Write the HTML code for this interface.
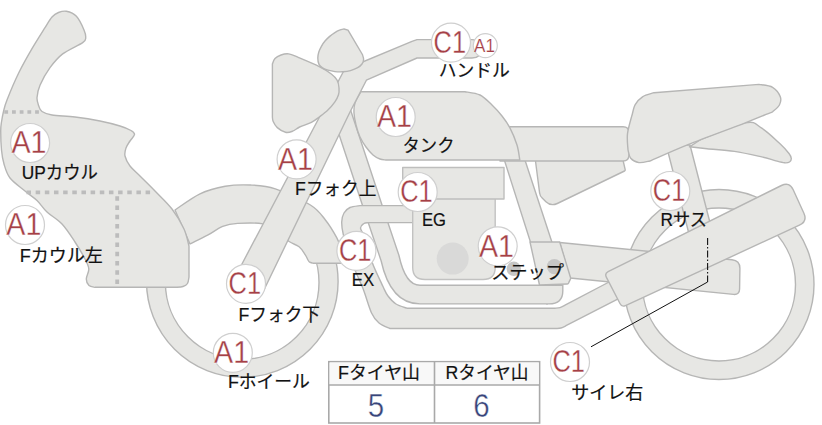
<!DOCTYPE html>
<html lang="ja"><head><meta charset="utf-8"><title>bike</title>
<style>
html,body{margin:0;padding:0;background:#fff;}
body{width:822px;height:425px;overflow:hidden;}
svg{display:block;}
text{font-family:"Liberation Sans","Noto Sans CJK JP",sans-serif;}
</style></head><body>
<svg width="822" height="425" viewBox="0 0 822 425">
<rect width="822" height="425" fill="#fff"/>
<path d="M624.0,284.5 a95.0,95.0 0 1,0 190.0,0 a95.0,95.0 0 1,0 -190.0,0 Z M642.5,284.5 a76.5,76.5 0 1,1 153.0,0 a76.5,76.5 0 1,1 -153.0,0 Z" fill="#e7e7e4" stroke="#b6b6b5" stroke-width="1.4" stroke-linejoin="round" fill-rule="evenodd"/>
<clipPath id="ftc"><rect x="0" y="250" width="822" height="200"/></clipPath><g clip-path="url(#ftc)"><path d="M146.5,281.5 a95.8,95.8 0 1,0 191.6,0 a95.8,95.8 0 1,0 -191.6,0 Z M165.4,282.5 a76.8,76.8 0 1,1 153.6,0 a76.8,76.8 0 1,1 -153.6,0 Z" fill="#e7e7e4" stroke="#b6b6b5" stroke-width="1.4" stroke-linejoin="round" fill-rule="evenodd"/></g>
<path d="M338,101.6 L374.5,212 L390,258 Q398,294.6 420,294.6 L548,294.6" fill="none" stroke="#b6b6b5" stroke-width="20.0" stroke-linecap="butt" stroke-linejoin="round"/><path d="M338,101.6 L374.5,212 L390,258 Q398,294.6 420,294.6 L548,294.6" fill="none" stroke="#e7e7e4" stroke-width="17.2" stroke-linecap="butt" stroke-linejoin="round"/>
<path d="M546,285.3 L562.8,285.3 L562.8,291 Q562.8,303.9 549,303.9 L546,303.9" fill="#e7e7e4" stroke="#b6b6b5" stroke-width="1.4"/>
<path d="M500.5,148 L521,148 L554.5,250 L533,250 Z" fill="#e7e7e4" stroke="#b6b6b5" stroke-width="1.4" stroke-linejoin="round" />
<path d="M412.7,205.6 L360.0,205.6 C358.3,205.9 352.7,206.3 350.0,207.5 C347.3,208.7 345.4,210.6 344.0,213.0 C342.6,215.4 341.8,218.5 341.7,222.0 C341.6,225.5 341.8,228.0 343.2,234.0 C344.6,240.0 346.8,249.1 350.0,258.0 C353.2,266.9 359.0,278.5 362.6,287.6 C366.2,296.7 368.7,306.8 371.4,312.7 C374.1,318.6 375.9,320.4 379.0,323.0 C382.1,325.6 388.2,327.6 390.0,328.5 L556.0,328.5 C556.8,328.4 559.3,328.5 561.0,328.0 C562.7,327.5 565.2,326.1 566.0,325.7 L624.0,295.8 L610.0,281.5 L565.0,305.2 C564.2,305.6 561.7,307.1 560.0,307.6 C558.3,308.1 555.8,308.1 555.0,308.2 L407.0,308.2 C405.2,307.5 399.2,306.0 396.0,304.0 C392.8,302.0 390.2,298.9 388.0,296.0 C385.8,293.1 385.7,292.2 383.0,286.5 C380.3,280.8 375.0,270.1 372.0,262.0 C369.0,253.9 366.7,243.4 364.8,237.7 C362.9,232.0 360.6,230.4 360.5,228.0 C360.4,225.6 362.8,224.4 364.0,223.5 C365.2,222.6 367.3,222.8 368.0,222.6 L412.7,222.6 Z" fill="#e7e7e4" stroke="#b6b6b5" stroke-width="1.4" stroke-linejoin="round" />
<path d="M412.7,190 L495.2,190 L495.2,267.5 Q495.2,279.5 483,279.5 L425,279.5 Q412.7,279.5 412.7,267.5 Z" fill="#e7e7e4" stroke="#c2c2c1" stroke-width="1.4" stroke-linejoin="round" />
<path d="M402.7,167.5 H504 V199 H402.7 Z" fill="#e7e7e4" stroke="#bebebd" stroke-width="1.4" stroke-linejoin="round" />
<circle cx="452.7" cy="258.6" r="16" fill="#d9d9d8"/>
<path d="M559.7,242.5 L732.0,259.7 Q740.0,260.5 739.9,268.5 L739.6,289.0 Q739.5,295.0 733.5,294.4 L570.0,278.0 Z" fill="#e7e7e4" stroke="#b6b6b5" stroke-width="1.4" stroke-linejoin="round" />
<path d="M666.2,145 L690,145 L716,246 L692.1,246 Z" fill="#e7e7e4" stroke="#b6b6b5" stroke-width="1.4" stroke-linejoin="round" />
<path d="M530.0,242.0 L559.7,242.0 L570.5,277.5 Q570.8,278.5 570.3,279.4 L568.5,283.1 Q568.0,284.0 567.0,284.0 L539.5,285.0 Z" fill="#e7e7e4" stroke="#b6b6b5" stroke-width="1.4" stroke-linejoin="round" />
<circle cx="513.8" cy="268.8" r="7.2" fill="#c6c6c5"/>
<circle cx="554.4" cy="266.6" r="7.6" fill="#c6c6c5"/>
<path d="M535.1,158.0 L622.5,158.0 L625.2,169.6 Q625.4,170.6 624.5,171.0 L557.3,203.5 Q551.0,206.5 545.9,201.7 L542.2,198.1 Q540.0,196.0 539.6,193.0 Z" fill="#e7e7e4" stroke="#b6b6b5" stroke-width="1.4" stroke-linejoin="round" />
<path d="M500.0,126.7 L623.0,126.7 Q629.0,126.7 629.0,132.7 L629.0,155.0 Q629.0,161.0 623.0,161.0 L500.0,161.0 Z" fill="#e7e7e4" stroke="#b6b6b5" stroke-width="1.4" stroke-linejoin="round" />
<path d="M700.0,140.0 C707.5,137.1 735.0,124.8 745.3,122.8 C755.6,120.8 755.8,124.6 761.7,128.2 C767.6,131.8 776.2,140.4 780.8,144.6 C785.3,148.8 787.2,151.2 789.0,153.5 C790.8,155.8 791.2,157.1 791.3,158.5 C791.4,159.9 790.6,161.3 789.5,162.0 C788.4,162.7 786.9,163.0 784.5,162.8 C782.1,162.6 778.8,161.6 775.0,160.6 C771.2,159.6 768.5,158.4 761.7,156.9 C754.9,155.4 743.5,152.8 734.4,151.4 C725.3,150.0 714.5,149.5 707.0,148.7 C699.5,147.9 692.3,147.1 689.4,146.8 Z" fill="#e7e7e4" stroke="#b6b6b5" stroke-width="1.4" stroke-linejoin="round" />
<path d="M632.1,115.0 C632.6,113.3 633.5,107.6 635.2,104.6 C636.9,101.6 639.4,98.8 642.5,96.8 C645.6,94.8 652.1,93.4 654.0,92.7 L759.0,84.4 C761.3,84.9 769.1,85.2 772.6,87.3 C776.1,89.4 779.2,93.8 780.3,96.8 C781.4,99.8 780.7,102.5 779.4,105.0 C778.1,107.5 773.7,110.7 772.6,111.8 C768.0,113.6 759.4,117.3 745.3,122.8 C731.2,128.3 703.9,138.2 688.0,144.6 C672.1,151.0 656.2,158.3 649.8,161.0 C648.0,161.3 642.1,163.1 638.9,162.6 C635.7,162.1 632.5,160.3 630.7,158.2 C628.9,156.1 628.5,151.4 628.0,150.0 C627.9,147.3 626.8,139.6 627.5,133.7 C628.2,127.8 631.3,117.8 632.1,114.6 Z" fill="#e7e7e4" stroke="#b6b6b5" stroke-width="1.4" stroke-linejoin="round" />
<path d="M361.0,91.7 L465.0,91.7 C467.5,92.2 475.5,92.8 480.0,95.0 C484.5,97.2 488.3,101.5 492.0,105.0 C495.7,108.5 499.0,112.2 502.0,116.0 C505.0,119.8 507.3,122.8 509.8,127.6 C512.3,132.4 515.3,139.6 517.0,145.0 C518.7,150.4 519.3,157.5 519.8,160.0 L386.0,160.0 C385.0,159.8 382.2,159.8 380.0,159.0 C377.8,158.2 375.3,157.0 373.0,155.0 C370.7,153.0 368.2,150.0 366.0,147.0 C363.8,144.0 361.7,140.7 360.0,137.0 C358.3,133.3 357.0,129.0 356.0,125.0 C355.0,121.0 354.2,116.7 354.0,113.0 C353.8,109.3 353.8,106.5 355.0,103.0 C356.2,99.5 360.0,93.6 361.0,91.7 Z" fill="#e7e7e4" stroke="#b6b6b5" stroke-width="1.4" stroke-linejoin="round" />
<path d="M175.0,210.0 C179.2,207.3 191.6,197.8 200.0,193.8 C208.4,189.9 216.8,187.8 225.2,186.3 C233.6,184.8 242.0,184.6 250.3,185.0 C258.7,185.4 265.3,185.5 275.3,188.8 C285.3,192.1 302.0,199.8 310.4,205.0 C318.8,210.2 321.0,214.6 325.4,220.0 C329.8,225.4 334.0,232.7 336.7,237.7 C339.4,242.7 340.6,245.8 341.5,250.0 C342.4,254.2 341.9,261.0 342.0,263.2 L313.0,263.2 C312.4,263.0 310.5,262.7 309.7,262.2 C308.9,261.7 308.7,261.2 308.0,260.0 C307.3,258.8 306.8,257.0 305.3,254.8 C303.8,252.6 301.8,249.0 299.1,246.8 C296.4,244.6 293.0,244.1 289.1,241.5 C285.2,238.9 280.4,233.9 276.0,231.0 C271.6,228.1 269.2,225.2 262.8,223.9 C256.4,222.6 244.4,223.0 237.7,223.4 C231.0,223.8 227.7,224.4 222.7,226.4 C217.7,228.4 213.0,232.3 207.6,235.2 C202.2,238.1 192.9,242.5 190.0,244.0 Z" fill="#e7e7e4" stroke="#b6b6b5" stroke-width="1.4" stroke-linejoin="round" />
<path d="M344.5,69.5 L412,41.3 L417,39.6 L472,39.6 Q481.5,39.6 481.5,48.8 Q481.5,58 472,58 L417,58 L366.4,80.2 L350,112 L262,294 L233,281 Z" fill="#e7e7e4" stroke="#b6b6b5" stroke-width="1.4" stroke-linejoin="round" />
<path d="M272.4,117.0 L272.4,64.0 C272.8,63.1 273.6,60.0 275.0,58.5 C276.4,57.0 278.7,55.8 281.0,55.0 C283.3,54.2 285.8,53.5 288.7,53.9 C291.6,54.3 293.7,55.5 298.7,57.6 C303.7,59.7 313.4,63.7 318.8,66.4 C324.2,69.1 328.3,71.7 331.3,74.0 C334.3,76.3 335.7,77.7 337.0,80.0 C338.3,82.3 338.8,85.5 339.0,88.0 C339.2,90.5 339.2,92.4 338.5,94.7 C337.8,97.0 336.7,99.2 334.9,101.8 C333.1,104.3 330.6,107.4 327.9,110.0 C325.2,112.6 321.2,115.5 318.5,117.6 C315.8,119.7 314.5,120.8 311.4,122.4 C308.2,124.0 302.7,125.5 299.6,127.0 C296.5,128.5 295.0,130.3 292.6,131.2 C290.2,132.1 288.1,132.9 285.5,132.3 C282.9,131.7 279.4,129.4 277.3,127.6 C275.2,125.8 274.0,123.3 273.2,121.5 C272.4,119.7 272.5,117.8 272.4,117.0 Z" fill="#e7e7e4" stroke="#b6b6b5" stroke-width="1.4" stroke-linejoin="round" />
<path d="M344.0,29.0 L348.0,30.2 L362.4,54.5 C362.6,55.3 363.7,57.9 363.6,59.5 C363.5,61.1 363.0,62.6 362.0,64.0 C361.0,65.4 359.6,66.6 357.7,67.7 C355.8,68.8 353.0,69.9 350.5,70.6 C348.0,71.3 345.4,71.6 342.8,71.8 C340.2,72.0 337.5,71.9 335.0,71.6 C332.5,71.3 330.1,70.8 328.0,70.2 C325.9,69.6 324.0,68.8 322.5,67.8 C321.0,66.8 319.8,66.0 319.0,64.4 C318.2,62.8 317.8,60.1 317.8,58.0 C317.8,55.9 318.2,54.0 318.8,52.0 C319.4,50.0 320.4,48.1 321.4,46.3 C322.4,44.5 323.6,42.6 325.0,41.0 C326.4,39.4 328.1,37.8 329.7,36.4 C331.3,35.0 332.9,33.8 334.5,32.8 C336.1,31.8 337.9,30.8 339.5,30.2 C341.1,29.6 343.2,29.2 344.0,29.0 Z" fill="#e7e7e4" stroke="#b6b6b5" stroke-width="1.4" stroke-linejoin="round" />
<path d="M189.0,246.0 L189.0,277.0 C188.8,278.1 188.5,281.9 187.5,283.5 C186.5,285.1 184.9,285.9 183.0,286.5 C181.1,287.1 177.2,287.2 176.0,287.3 L95.0,287.3 C94.0,287.0 90.5,286.9 89.0,285.5 C87.5,284.1 86.3,281.8 86.3,279.0 C86.3,276.2 89.0,272.3 88.8,269.0 C88.6,265.7 87.3,263.5 85.0,259.0 C82.7,254.5 78.8,247.8 75.0,242.0 C71.2,236.2 66.7,229.0 62.0,224.0 C57.3,219.0 51.2,215.9 47.0,212.0 C42.8,208.1 40.7,204.0 37.0,200.5 C33.3,197.0 29.5,194.8 25.0,191.0 C20.5,187.2 13.5,182.5 10.0,178.0 C6.5,173.5 5.4,168.7 4.0,164.0 C2.6,159.3 2.0,155.5 1.5,150.0 C1.0,144.5 0.7,135.7 0.7,131.0 C0.7,126.3 1.0,125.3 1.5,122.0 C2.0,118.7 2.7,114.7 3.6,111.0 C4.5,107.3 4.5,106.4 7.0,100.0 C9.5,93.6 14.5,81.4 18.8,72.7 C23.1,64.0 28.2,55.1 32.6,47.6 C37.0,40.1 41.8,32.7 45.0,27.6 C48.2,22.5 49.8,19.5 52.0,17.0 C54.2,14.5 56.1,13.4 58.5,12.5 C60.9,11.6 63.4,10.7 66.4,11.3 C69.4,11.9 73.5,13.2 76.4,16.3 C79.3,19.4 82.5,26.4 84.0,30.0 C85.5,33.5 85.9,35.5 85.7,37.6 C85.5,39.7 86.5,39.9 82.7,42.6 C78.9,45.3 68.2,49.7 62.7,53.9 C57.2,58.1 53.8,62.5 50.0,67.7 C46.2,72.9 42.2,80.2 40.0,85.2 C37.8,90.2 37.2,94.2 37.0,97.7 C36.8,101.2 38.0,103.7 38.8,106.0 C39.6,108.3 39.8,110.0 42.0,111.5 C44.2,113.0 46.5,114.1 52.0,115.0 C57.5,115.9 67.0,116.0 75.0,117.0 C83.0,118.0 92.5,119.5 100.0,121.0 C107.5,122.5 114.8,124.4 120.0,126.0 C125.2,127.6 128.6,129.1 131.0,130.5 C133.4,131.9 134.7,132.8 134.5,134.5 C134.3,136.2 131.4,138.8 130.0,141.0 C128.6,143.2 126.8,145.5 126.0,148.0 C125.2,150.5 124.3,153.0 125.0,156.0 C125.7,159.0 127.5,162.7 130.0,166.0 C132.5,169.3 135.8,171.8 140.0,176.0 C144.2,180.2 149.7,185.5 155.0,191.0 C160.3,196.5 167.2,202.7 172.0,209.0 C176.8,215.3 181.2,222.8 184.0,229.0 C186.8,235.2 188.2,243.2 189.0,246.0 Z" fill="#e7e7e4" stroke="#b6b6b5" stroke-width="1.4" stroke-linejoin="round" />
<path d="M26.5,192.3 H151" stroke="#bcbcbc" stroke-width="3.8" stroke-dasharray="4.5 4.66" fill="none"/>
<path d="M117.2,196.3 V285" stroke="#bcbcbc" stroke-width="3.8" stroke-dasharray="4.5 4.74" fill="none"/>
<path d="M4.3,112 H40" stroke="#bcbcbc" stroke-width="3.5" stroke-dasharray="3.8 3.9" fill="none"/>
<path d="M606.3,277.1 Q604.5,273.5 608.1,271.7 L781.4,185.5 Q789.5,181.5 793.2,189.7 L803.9,213.2 Q807.6,221.4 799.4,225.2 L625.5,305.6 Q621.9,307.3 620.1,303.7 Z" fill="#e7e7e4" stroke="#b6b6b5" stroke-width="1.4" stroke-linejoin="round" />
<path d="M707.6,238 V282" stroke="#111" stroke-width="1.1" stroke-dasharray="7 2 1.5 2" fill="none"/>
<path d="M707.6,282 L591,346.8" stroke="#111" stroke-width="1" fill="none"/>
<circle cx="30.1" cy="143.0" r="19.5" fill="#fff" stroke="#cfcfcf" stroke-width="1.2"/><text x="11.4" y="153.4" font-size="30.6" fill="#a54046" stroke="#fff" stroke-width="0.30" textLength="35.0" lengthAdjust="spacingAndGlyphs" class="b">A1</text>
<circle cx="25.0" cy="225.0" r="19.5" fill="#fff" stroke="#cfcfcf" stroke-width="1.2"/><text x="6.3" y="235.4" font-size="30.6" fill="#a54046" stroke="#fff" stroke-width="0.30" textLength="35.0" lengthAdjust="spacingAndGlyphs" class="b">A1</text>
<circle cx="296.6" cy="159.3" r="19.5" fill="#fff" stroke="#cfcfcf" stroke-width="1.2"/><text x="277.9" y="169.7" font-size="30.6" fill="#a54046" stroke="#fff" stroke-width="0.30" textLength="35.0" lengthAdjust="spacingAndGlyphs" class="b">A1</text>
<circle cx="395.7" cy="117.0" r="19.5" fill="#fff" stroke="#cfcfcf" stroke-width="1.2"/><text x="377.0" y="127.4" font-size="30.6" fill="#a54046" stroke="#fff" stroke-width="0.30" textLength="35.0" lengthAdjust="spacingAndGlyphs" class="b">A1</text>
<circle cx="451.0" cy="42.6" r="19.5" fill="#fff" stroke="#cfcfcf" stroke-width="1.2"/><text x="433.6" y="53.0" font-size="30.6" fill="#a54046" stroke="#fff" stroke-width="0.30" textLength="32.5" lengthAdjust="spacingAndGlyphs" class="b">C1</text>
<circle cx="417.7" cy="192.0" r="19.5" fill="#fff" stroke="#cfcfcf" stroke-width="1.2"/><text x="400.2" y="202.4" font-size="30.6" fill="#a54046" stroke="#fff" stroke-width="0.30" textLength="32.5" lengthAdjust="spacingAndGlyphs" class="b">C1</text>
<circle cx="356.4" cy="250.8" r="19.5" fill="#fff" stroke="#cfcfcf" stroke-width="1.2"/><text x="338.9" y="261.2" font-size="30.6" fill="#a54046" stroke="#fff" stroke-width="0.30" textLength="32.5" lengthAdjust="spacingAndGlyphs" class="b">C1</text>
<circle cx="497.7" cy="246.3" r="19.5" fill="#fff" stroke="#cfcfcf" stroke-width="1.2"/><text x="479.0" y="256.7" font-size="30.6" fill="#a54046" stroke="#fff" stroke-width="0.30" textLength="35.0" lengthAdjust="spacingAndGlyphs" class="b">A1</text>
<circle cx="670.3" cy="191.0" r="19.5" fill="#fff" stroke="#cfcfcf" stroke-width="1.2"/><text x="652.8" y="201.4" font-size="30.6" fill="#a54046" stroke="#fff" stroke-width="0.30" textLength="32.5" lengthAdjust="spacingAndGlyphs" class="b">C1</text>
<circle cx="246.0" cy="283.8" r="19.5" fill="#fff" stroke="#cfcfcf" stroke-width="1.2"/><text x="228.6" y="294.2" font-size="30.6" fill="#a54046" stroke="#fff" stroke-width="0.30" textLength="32.5" lengthAdjust="spacingAndGlyphs" class="b">C1</text>
<circle cx="232.8" cy="352.8" r="19.5" fill="#fff" stroke="#cfcfcf" stroke-width="1.2"/><text x="214.1" y="363.2" font-size="30.6" fill="#a54046" stroke="#fff" stroke-width="0.30" textLength="35.0" lengthAdjust="spacingAndGlyphs" class="b">A1</text>
<circle cx="570.0" cy="362.0" r="19.5" fill="#fff" stroke="#cfcfcf" stroke-width="1.2"/><text x="552.5" y="372.4" font-size="30.6" fill="#a54046" stroke="#fff" stroke-width="0.30" textLength="32.5" lengthAdjust="spacingAndGlyphs" class="b">C1</text>
<circle cx="485.3" cy="45.6" r="12.0" fill="#fff" stroke="#cfcfcf" stroke-width="1.2"/><text x="474.1" y="51.8" font-size="18.3" fill="#a54046" stroke="#fff" stroke-width="0.18" textLength="20.9" lengthAdjust="spacingAndGlyphs" class="b">A1</text>
<text x="21.8" y="179.0" font-size="18" fill="#111" stroke="#111" stroke-width="0.2" textLength="76.0" lengthAdjust="spacingAndGlyphs">UPカウル</text>
<text x="19.7" y="262.3" font-size="18" fill="#111" stroke="#111" stroke-width="0.2" textLength="83.0" lengthAdjust="spacingAndGlyphs">Fカウル左</text>
<text x="294.9" y="195.3" font-size="18" fill="#111" stroke="#111" stroke-width="0.2" textLength="81.5" lengthAdjust="spacingAndGlyphs">Fフォク上</text>
<text x="402.5" y="151.7" font-size="18" fill="#111" stroke="#111" stroke-width="0.2" textLength="52.0" lengthAdjust="spacingAndGlyphs">タンク</text>
<text x="438.8" y="77.4" font-size="18" fill="#111" stroke="#111" stroke-width="0.2" textLength="71.0" lengthAdjust="spacingAndGlyphs">ハンドル</text>
<text x="421.9" y="226.3" font-size="18" fill="#111" stroke="#111" stroke-width="0.2" textLength="24.0" lengthAdjust="spacingAndGlyphs">EG</text>
<text x="351.8" y="286.2" font-size="18" fill="#111" stroke="#111" stroke-width="0.2" textLength="22.5" lengthAdjust="spacingAndGlyphs">EX</text>
<text x="491.2" y="279.2" font-size="18" fill="#111" stroke="#111" stroke-width="0.2" textLength="72.7" lengthAdjust="spacingAndGlyphs">ステップ</text>
<text x="660.5" y="226.0" font-size="18" fill="#111" stroke="#111" stroke-width="0.2" textLength="46.5" lengthAdjust="spacingAndGlyphs">Rサス</text>
<text x="238.4" y="320.5" font-size="18" fill="#111" stroke="#111" stroke-width="0.2" textLength="81.7" lengthAdjust="spacingAndGlyphs">Fフォク下</text>
<text x="227.9" y="387.9" font-size="18" fill="#111" stroke="#111" stroke-width="0.2" textLength="82.0" lengthAdjust="spacingAndGlyphs">Fホイール</text>
<text x="571.2" y="399.3" font-size="18" fill="#111" stroke="#111" stroke-width="0.2" textLength="72.0" lengthAdjust="spacingAndGlyphs">サイレ右</text>
<rect x="328.8" y="361.7" width="210.8" height="61.3" fill="#fff" stroke="#a9a9a9" stroke-width="1.6"/>
<rect x="329.6" y="362.5" width="209.2" height="22.5" fill="#f8f8f8"/>
<path d="M328.8,385 H539.6 M434.5,361.7 V423" stroke="#a9a9a9" stroke-width="1.6" fill="none"/>
<text x="338.0" y="379.3" font-size="18" fill="#111" stroke="#111" stroke-width="0.2" textLength="82.0" lengthAdjust="spacingAndGlyphs">Fタイヤ山</text>
<text x="445.5" y="379.3" font-size="18" fill="#111" stroke="#111" stroke-width="0.2" textLength="83.0" lengthAdjust="spacingAndGlyphs">Rタイヤ山</text>
<text x="367.8" y="417" font-size="32.5" fill="#38457a" stroke="#fff" stroke-width="0.4" textLength="16.4" lengthAdjust="spacingAndGlyphs" class="b">5</text>
<text x="473.3" y="417" font-size="32.5" fill="#38457a" stroke="#fff" stroke-width="0.4" textLength="16.4" lengthAdjust="spacingAndGlyphs" class="b">6</text>
</svg>
</body></html>
